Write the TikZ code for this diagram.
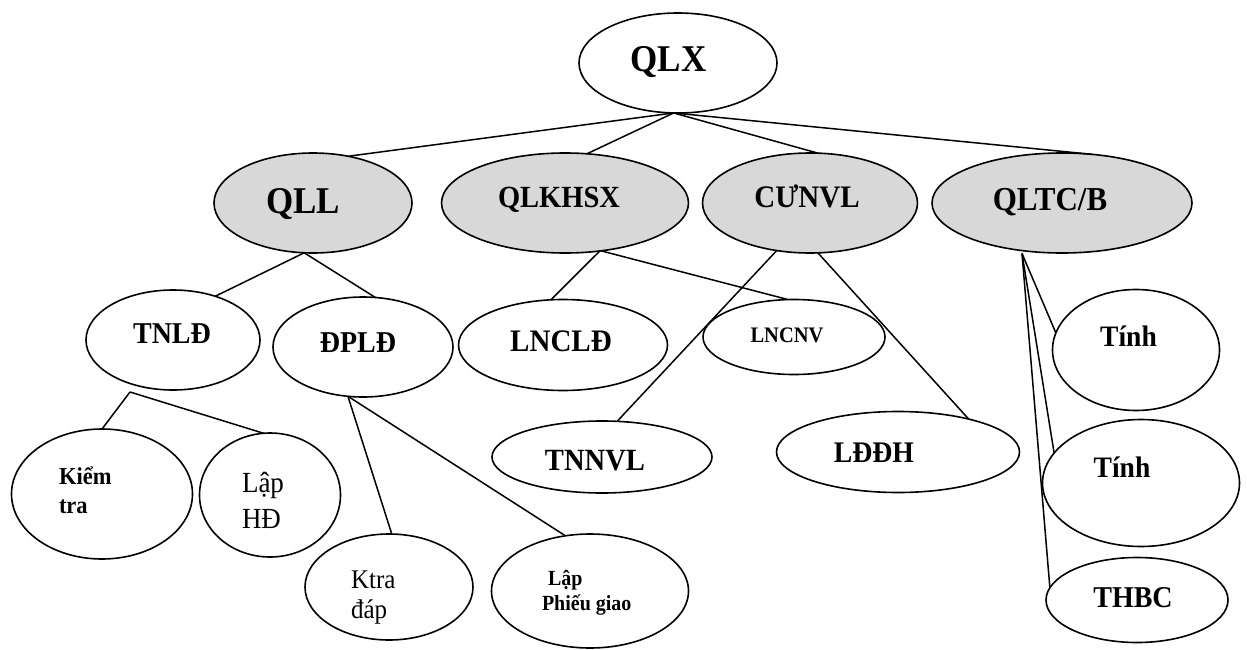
\documentclass[tikz,border=0pt]{standalone}
\usepackage{graphicx}
\usepackage{fontspec}
\setmainfont{Liberation Serif}
\usetikzlibrary{shapes.geometric}
\definecolor{boxgray}{RGB}{216,216,216}
\newcommand\setfs[1]{\fontsize{#1pt}{#1pt}\selectfont}
% slightly tall lettering
\newcommand\tall[1]{\scalebox{1}[1.08]{#1}}
\tikzset{
  box/.style={ellipse, draw, line width=1.6pt, inner sep=0pt, outer sep=0pt},
  topbox/.style={box, fill=boxgray},
  sz/.style 2 args={minimum width=#1pt, minimum height=#2pt},
  lbl/.style={inner sep=0pt, outer sep=0pt, anchor=base},
  lblw/.style={inner sep=0pt, outer sep=0pt, anchor=base west},
  link/.style={line width=1.5pt},
}
\begin{document}
\begin{tikzpicture}[x=1pt, y=-1pt]
\useasboundingbox (0,0) rectangle (1247,650);

% ---------- ellipses ----------
% root
\node[box, sz={198}{100}] (qlx) at (678,63) {};
% second level
\node[topbox, sz={198}{100}] (qll) at (313,203) {};
\node[topbox, sz={247}{100}] (qlkhsx) at (565,203) {};
\node[topbox, sz={215}{100}] (cunvl) at (810,203) {};
\node[topbox, sz={260}{100}] (qltcb) at (1062,203) {};
% third level
\node[box, sz={174}{100}] (tnld) at (173,340) {};
\node[box, sz={180}{100}] (dpld) at (363,347) {};
\node[box, sz={209}{91}] (lncld) at (563,345) {};
\node[box, sz={182}{75}] (lncnv) at (794,337) {};
\node[box, sz={220}{72}] (tnnvl) at (602,457) {};
\node[box, sz={243}{81}] (lddh) at (898,452) {};
\node[box, sz={167}{121}] (tinh1) at (1136,350) {};
\node[box, sz={197}{127}] (tinh2) at (1141,483) {};
\node[box, sz={182}{85}] (thbc) at (1137,600) {};
% fourth level
\node[box, sz={181}{130}] (kiemtra) at (102,494) {};
\node[box, sz={141}{124}] (laphd) at (270,495) {};
\node[box, sz={168}{106}] (ktradap) at (389,587) {};
\node[box, sz={197}{114}] (lappg) at (590,591) {};

% ---------- texts (placed on their baselines) ----------
\node[lbl] (qlxt) at (668.5,72) {\setfs{35}\bfseries\tall{QLX}};
\node[lbl] (qllt) at (303,213) {\setfs{35}\bfseries\tall{QLL}};
\node[lbl] (qlkhsxt) at (559,207) {\setfs{28.5}\bfseries\tall{QLKHSX}};
\node[lbl] (cunvlt) at (807,207) {\setfs{29}\bfseries\tall{CƯNVL}};
\node[lbl] (qltcbt) at (1050,210) {\setfs{31}\bfseries\tall{QLTC/B}};
\node[lbl] (tnldt) at (172,343) {\setfs{28}\bfseries\tall{TNLĐ}};
\node[lbl] (dpldt) at (358,352) {\setfs{28}\bfseries\tall{ĐPLĐ}};
\node[lbl] (lncldt) at (561,351) {\setfs{29}\bfseries\tall{LNCLĐ}};
\node[lbl] (lncnvt) at (787,342) {\setfs{20.5}\bfseries\tall{LNCNV}};
\node[lbl] (tnnvlt) at (595,470) {\setfs{28.6}\bfseries\tall{TNNVL}};
\node[lbl] (lddht) at (874,462) {\setfs{27.7}\bfseries\tall{LĐĐH}};
\node[lbl] (tinh1t) at (1128.5,346) {\setfs{27.5}\bfseries\tall{Tính}};
\node[lbl] (tinh2t) at (1122,477) {\setfs{27.5}\bfseries\tall{Tính}};
\node[lbl] (thbct) at (1133,607) {\setfs{28}\bfseries\tall{THBC}};
\node[lblw] (kiemtra1) at (59,484) {\setfs{22.5}\bfseries\tall{Kiểm}};
\node[lblw] (kiemtra2) at (59,513) {\setfs{22.5}\bfseries\tall{tra}};
\node[lblw] (laphd1) at (242,492) {\setfs{27}\tall{Lập}};
\node[lblw] (laphd2) at (242,528) {\setfs{27}\tall{HĐ}};
\node[lblw] (ktradap1) at (351,588) {\setfs{25}\tall{Ktra}};
\node[lblw] (ktradap2) at (351,618) {\setfs{25}\tall{đáp}};
\node[lblw] (lappg1) at (548,585) {\setfs{20}\bfseries\tall{Lập}};
\node[lblw] (lappg2) at (542,610) {\setfs{20}\bfseries\tall{Phiếu giao}};

% fork points just below their parents
\coordinate (tnldfork) at (130,392);
\coordinate (qltcbfork) at (1022,253.5);

% ---------- connectors ----------
\draw[link] (qlx.-95) -- (qll.53);
\draw[link] (qlx.-95) -- (qlkhsx.66);
\draw[link] (qlx.-95) -- (cunvl.81);
\draw[link] (qlx.-95) -- (qltcb.58);

\draw[link] (qll.-100) -- (tnld.46);
\draw[link] (qll.-100) -- (dpld.76);

\draw[link] (tnldfork) -- (kiemtra.north);
\draw[link] (tnldfork) -- (laphd.96);

\draw[link] (dpld.-107) -- (ktradap.87);
\draw[link] (dpld.-107) -- (lappg.114);

\draw[link] (qlkhsx.-54) -- (lncld.105);
\draw[link] (qlkhsx.-53) -- (lncnv.99);

\draw[link] (cunvl.-125) -- (tnnvl.67);
\draw[link] (cunvl.-81) -- (lddh.25);

\draw[link] (qltcbfork) -- (tinh1.168);
\draw[link] (qltcbfork) -- (tinh2.161);
\draw[link] (qltcbfork) -- (thbc.172);
\end{tikzpicture}
\end{document}
